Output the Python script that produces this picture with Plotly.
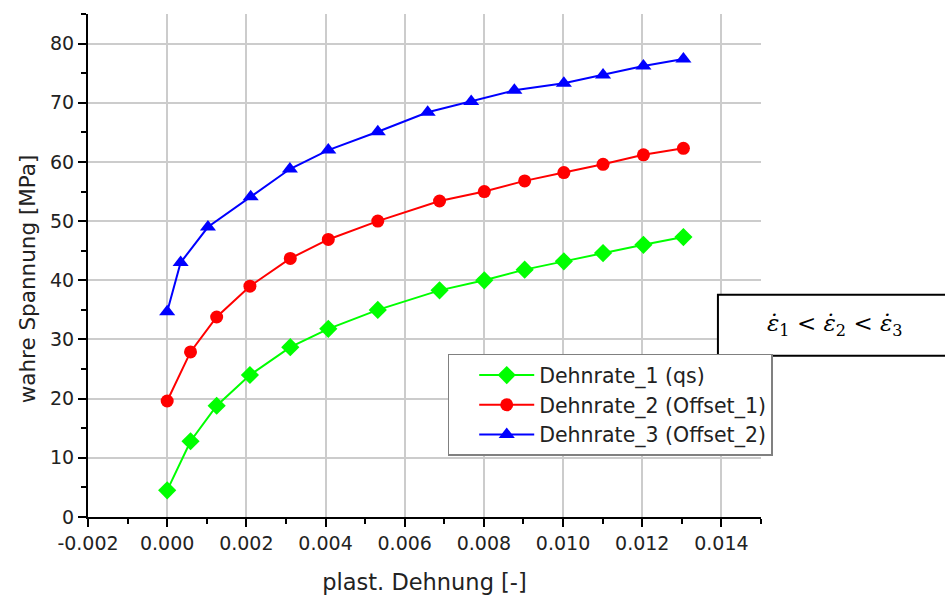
import plotly.graph_objects as go

# Data
x_12 = [0.0, 0.00059, 0.00125, 0.00209, 0.00311, 0.00407, 0.00532, 0.00688, 0.00801, 0.00903, 0.01002, 0.01101, 0.01203, 0.01304]
y_rate1 = [4.5, 12.8, 18.8, 24.0, 28.7, 31.8, 35.0, 38.3, 40.0, 41.8, 43.2, 44.6, 46.0, 47.3]
y_rate2 = [19.6, 27.9, 33.8, 39.0, 43.7, 46.9, 50.0, 53.4, 55.0, 56.8, 58.2, 59.6, 61.2, 62.3]
x_3 = [0.0, 0.00034, 0.00103, 0.00211, 0.0031, 0.00407, 0.00532, 0.00658, 0.00768, 0.00877, 0.01002, 0.01101, 0.01203, 0.01304]
y_rate3 = [34.7, 43.0, 49.0, 54.1, 58.8, 62.0, 65.1, 68.4, 70.2, 72.1, 73.3, 74.7, 76.2, 77.4]

names = ["Dehnrate_1 (qs)", "Dehnrate_2 (Offset_1)", "Dehnrate_3 (Offset_2)"]

x_tickvals = [-0.002, 0.0, 0.002, 0.004, 0.006, 0.008, 0.010, 0.012, 0.014]
x_ticktext = ["-0.002", "0.000", "0.002", "0.004", "0.006", "0.008", "0.010", "0.012", "0.014"]
y_tickvals = [0, 10, 20, 30, 40, 50, 60, 70, 80]

FONT = "DejaVu Sans"
TXT = "#222222"

fig = go.Figure()
fig.add_trace(go.Scatter(x=x_12, y=y_rate1, name=names[0], mode="lines+markers", legendgroup="g1",
                         line=dict(color="#00ff00", width=2),
                         marker=dict(symbol="diamond", size=14, color="#00ff00")))
fig.add_trace(go.Scatter(x=x_12, y=y_rate2, name=names[1], mode="lines+markers", legendgroup="g2",
                         line=dict(color="#ff0000", width=2),
                         marker=dict(symbol="circle", size=13, color="#ff0000")))
fig.add_trace(go.Scatter(x=x_3, y=y_rate3, name=names[2], mode="lines+markers", legendgroup="g3",
                         line=dict(color="#0000ff", width=2),
                         marker=dict(symbol="triangle-up", size=14, color="#0000ff")))

fig.update_layout(
    width=945, height=595,
    margin=dict(l=88, r=184, t=14, b=78),
    paper_bgcolor="white", plot_bgcolor="white",
    font=dict(family=FONT, color=TXT),
    legend=dict(x=0.5345, y=0.3245, xanchor="left", yanchor="top",
                bgcolor="white", bordercolor="#808080", borderwidth=1.5,
                font=dict(family=FONT, size=20.5, color=TXT),
                itemwidth=55, tracegroupgap=0, indentation=25),
    xaxis=dict(range=[-0.002, 0.015], tickvals=x_tickvals, ticktext=x_ticktext,
               showgrid=True, gridcolor="#cccccc", gridwidth=1.5,
               showline=True, linecolor="black", linewidth=2,
               ticks="outside", ticklen=8, tickwidth=2, tickcolor="black",
               tickfont=dict(size=19, family=FONT, color=TXT),
               minor=dict(dtick=0.001, ticks="outside", ticklen=5, tickwidth=2, tickcolor="black", showgrid=False),
               zeroline=False, automargin=False,
               title=dict(text="plast. Dehnung [-]", font=dict(size=22.5, family=FONT, color=TXT), standoff=22)),
    yaxis=dict(range=[0, 85], tickvals=y_tickvals,
               showgrid=True, gridcolor="#cccccc", gridwidth=1.5,
               showline=True, linecolor="black", linewidth=2,
               ticks="outside", ticklen=8, tickwidth=2, tickcolor="black",
               tickfont=dict(size=19, family=FONT, color=TXT),
               minor=dict(dtick=5, ticks="outside", ticklen=5, tickwidth=2, tickcolor="black", showgrid=False),
               zeroline=False, automargin=False),
)

# Y-axis title (placed slightly below centre as in the reference)
fig.add_annotation(xref="paper", yref="paper", x=-0.0895, y=0.474, xanchor="center", yanchor="middle",
                   text="wahre Spannung [MPa]", textangle=-90, showarrow=False,
                   font=dict(size=21.5, family=FONT, color=TXT))

# Annotation box with strain-rate relation
fig.add_shape(type="rect", xref="paper", yref="paper", x0=0.936, x1=1.30, y0=0.3205, y1=0.4417,
              line=dict(color="black", width=2), fillcolor="white", layer="above")
fig.add_annotation(xref="paper", yref="paper", x=1.11, y=0.381, xanchor="center", yanchor="middle",
                   text="<i>ε̇</i><sub>1</sub> &lt; <i>ε̇</i><sub>2</sub> &lt; <i>ε̇</i><sub>3</sub>",
                   showarrow=False, font=dict(family="DejaVu Serif", size=23, color="black"))

fig.write_html("out.html")
